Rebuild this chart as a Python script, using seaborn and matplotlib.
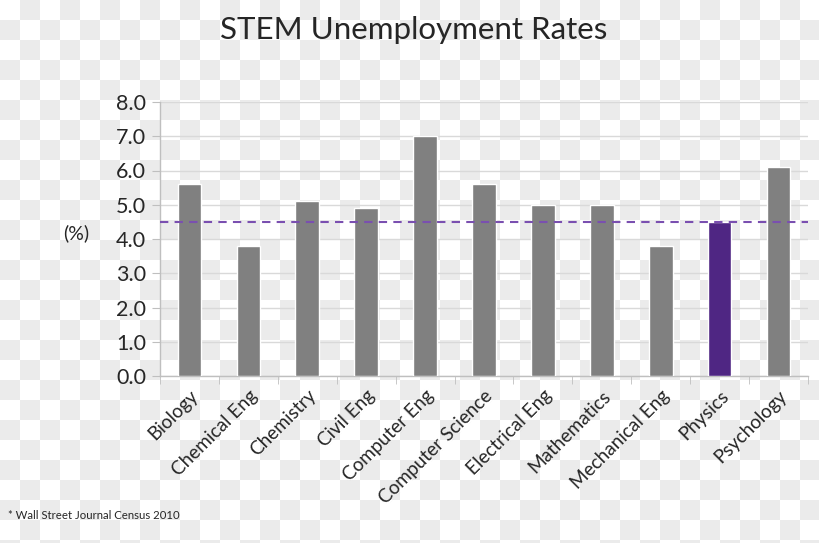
import numpy as np
import pandas as pd
import matplotlib
matplotlib.use("Agg")
import matplotlib.pyplot as plt
import seaborn as sns

majors = ['Biology', 'Chemical Eng', 'Chemistry', 'Civil Eng', 'Computer Eng',
          'Computer Science', 'Electrical Eng', 'Mathematics', 'Mechanical Eng',
          'Physics', 'Psychology']
rates = [5.6, 3.8, 5.1, 4.9, 7.0, 5.6, 5.0, 5.0, 3.8, 4.5, 6.1]
average_rate = 4.5
highlight = 'Physics'

sns.set_style('white')
plt.rcParams['font.family'] = ['Lato', 'DejaVu Sans']

df = pd.DataFrame({'major': majors, 'rate': rates})
colors = ['#4f2683' if m == highlight else '#808080' for m in majors]

fig = plt.figure(figsize=(8.2, 5.43), dpi=100)

# checkerboard backdrop
W, H = 820, 543
yy, xx = np.mgrid[0:H, 0:W]
board = ((xx // 20 + yy // 20) % 2).astype(float)
bg = np.where(board[..., None] == 1, 0.925, 1.0) * np.ones((H, W, 3))
fig.figimage(bg, xo=0, yo=0, zorder=-10)

ax = fig.add_axes([160 / W, 1 - 376 / H, 648 / W, 274 / H])
ax.patch.set_alpha(0)
sns.barplot(data=df, x='major', y='rate', hue='major', palette=colors,
            legend=False, width=0.4, saturation=1, ax=ax, zorder=3)

ax.axhline(average_rate, color='#7a4fb0', lw=1.5, ls=(0, (4, 3)), zorder=4,
           clip_on=False)

ax.set_ylim(0, 8)
ax.set_xlim(-0.5, len(majors) - 0.5)
ax.set_yticks(np.arange(0, 8.5, 1.0))
ax.set_yticklabels([f'{v:.1f}' for v in np.arange(0, 8.5, 1.0)], fontsize=15.5)
ax.yaxis.grid(True, color='#d9d9d9', lw=1, zorder=0)
ax.set_xlabel('')
ax.set_ylabel('(%)', fontsize=14, rotation=0, va='center')
ax.yaxis.set_label_coords(-0.13, 0.52)

ax.set_xticks(range(len(majors)))
ax.set_xticklabels(majors, rotation=45, ha='right', rotation_mode='anchor',
                   fontsize=13.7)
ax.tick_params(axis='x', length=0, pad=8)
ax.tick_params(axis='y', length=6, color='#bfbfbf', left=True, pad=4)
ax.set_xticks(np.arange(-0.5, len(majors), 1.0), minor=True)
ax.tick_params(axis='x', which='minor', length=6, color='#bfbfbf', bottom=True)

for side in ['top', 'right']:
    ax.spines[side].set_visible(False)
for side in ['left', 'bottom']:
    ax.spines[side].set_color('#bfbfbf')
    ax.spines[side].set_linewidth(1)

fig.text(0.505, 0.945, 'STEM Unemployment Rates', ha='center', va='center',
         fontsize=22.5)
fig.text(0.01, 0.05, '* Wall Street Journal Census 2010', ha='left',
         va='center', fontsize=8.2)

fig.savefig('out.png', dpi=100)
